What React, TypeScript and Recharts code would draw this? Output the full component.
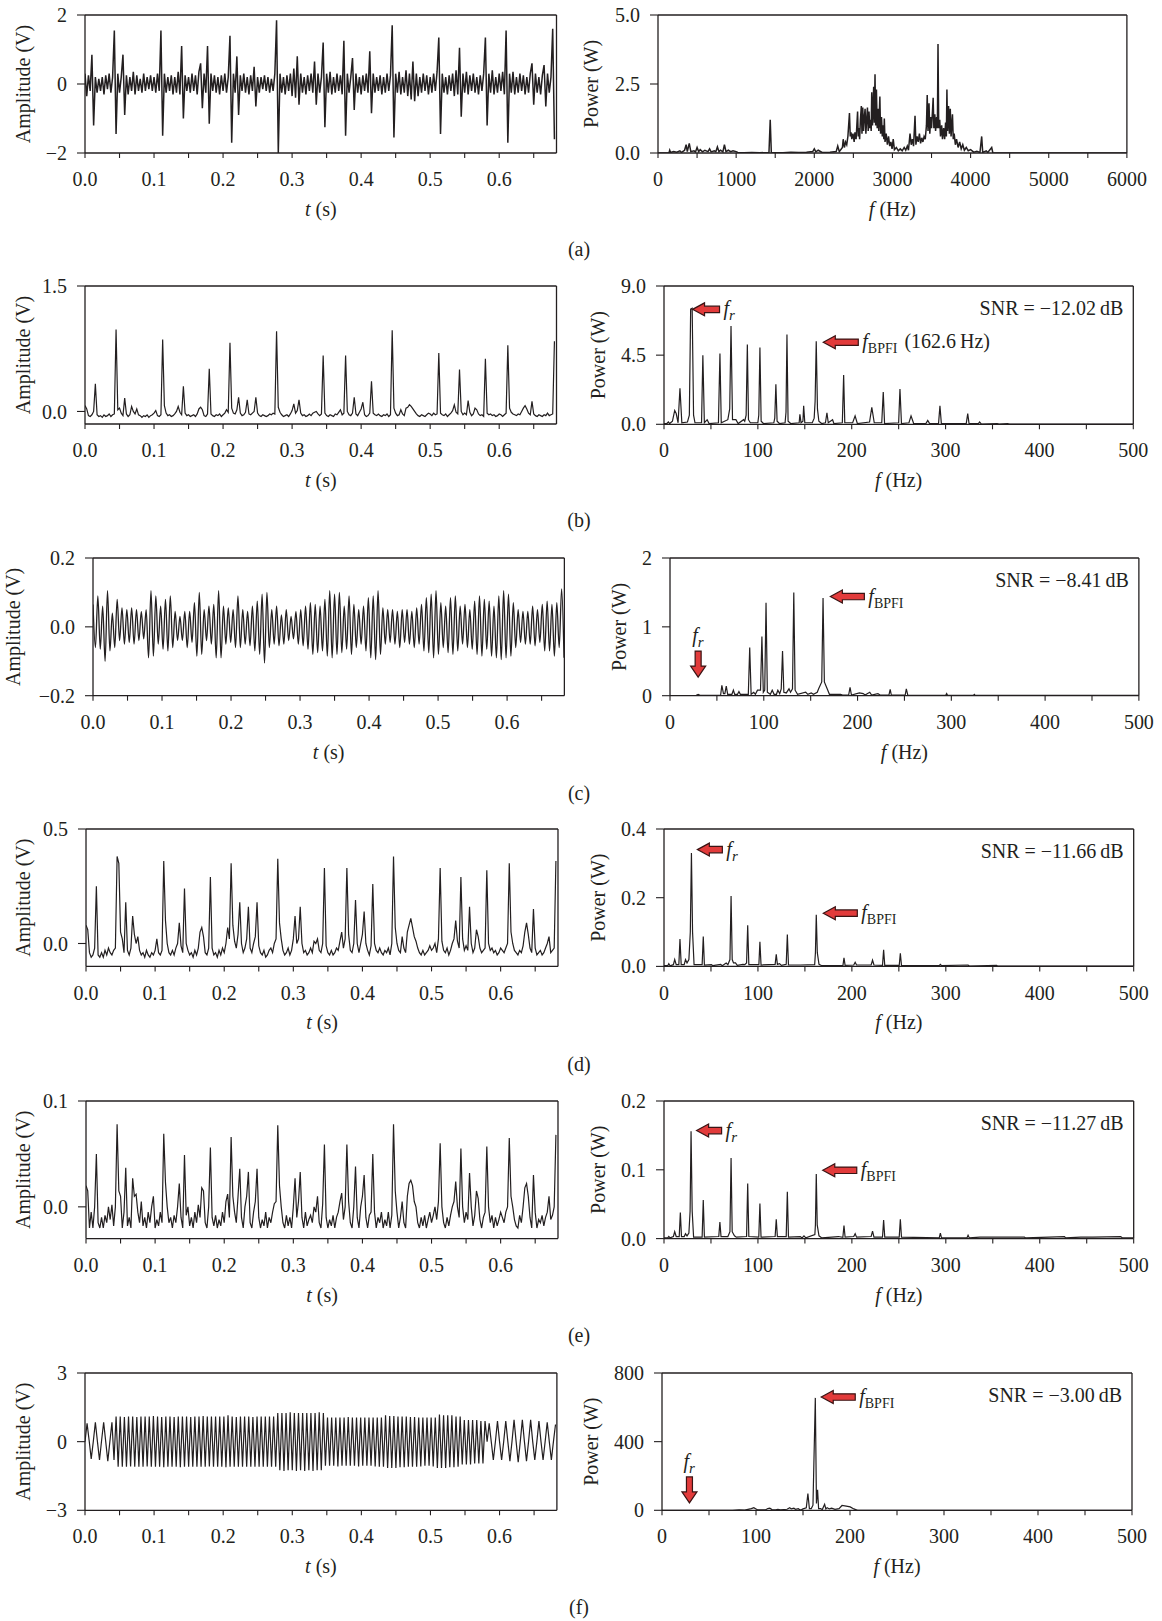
import type { ReactNode } from 'react'
import { LineChart, Line, XAxis, YAxis, ReferenceDot } from 'recharts'

const FONT = '"Liberation Serif", "Times New Roman", serif'
const INK = '#231f20'
const RED = '#e23b3b'
const RED_EDGE = '#3a1414'

// sampling steps of the time records (s)
const DT_ENV = 0.0025
const DT_OSC = 0.003
const DT_OSC_C = 0.0035

const T_DOMAIN = [0, 0.683]
const T_TICKS = [0, 0.05, 0.1, 0.15, 0.2, 0.25, 0.3, 0.35, 0.4, 0.45, 0.5, 0.55, 0.6, 0.65]
const T_LABELS = ['0.0', '', '0.1', '', '0.2', '', '0.3', '', '0.4', '', '0.5', '', '0.6', '']

const F_DOMAIN = [0, 500]
const F_TICKS = [0, 50, 100, 150, 200, 250, 300, 350, 400, 450, 500]
const F_LABELS = ['0', '', '100', '', '200', '', '300', '', '400', '', '500']

const FW_DOMAIN = [0, 6000]
const FW_TICKS = [0, 500, 1000, 1500, 2000, 2500, 3000, 3500, 4000, 4500, 5000, 5500, 6000]
const FW_LABELS = ['0', '', '1000', '', '2000', '', '3000', '', '4000', '', '5000', '', '6000']

// (a) raw vibration signal, V
const RAW_A = [
  0.3, -0.35, 0.25, -0.2, 0.85, -1.2, 0.2, -0.25, 0.15, -0.2,
  0.2, -0.3, 0.25, -0.15, 0.3, -0.25, 0.2, 1.55, -1.45, 0.3,
  -0.25, 0.2, 0.85, -0.9, 0.25, -0.3, 0.2, -0.2, 0.35, -0.3,
  0.25, -0.2, 0.15, -0.25, 0.3, -0.2, 0.2, -0.15, 0.25, -0.2,
  0.2, -0.25, 0.3, -0.2, 1.55, -1.5, 0.3, -0.25, 0.2, -0.2,
  0.25, -0.3, 0.2, -0.25, 0.35, -0.3, 1.1, -1.0, 0.25, -0.2,
  0.2, -0.25, 0.3, -0.2, 0.25, -0.3, 0.35, 0.6, -0.7, 0.3,
  -0.25, 1.1, -1.15, 0.3, -0.2, 0.25, -0.25, 0.2, -0.3, 0.25,
  -0.2, 0.3, -0.25, 0.2, 1.4, -1.7, 0.3, -0.25, 0.8, -0.9,
  0.25, -0.2, 0.3, -0.25, 0.2, -0.3, 0.25, -0.2, 0.5, -0.65,
  0.2, -0.25, 0.2, -0.15, 0.25, -0.2, 0.2, -0.25, 0.15, -0.2,
  0.3, 1.85, -2.0, 0.3, -0.25, 0.2, -0.3, 0.25, -0.2, 0.3,
  -0.35, 0.45, -0.4, 0.8, -0.6, 0.3, -0.25, 0.2, -0.3, 0.25,
  -0.2, 0.3, -0.25, 0.65, -0.6, 0.3, -0.25, 0.2, 1.2, -1.25,
  0.3, -0.25, 0.35, -0.3, 0.2, -0.25, 0.3, -0.2, 0.25, -0.3,
  1.25, -1.5, 0.3, -0.25, 0.2, 0.75, -0.75, 0.3, -0.25, 0.2,
  -0.3, 0.25, -0.2, 0.3, -0.25, 0.95, -0.85, 0.3, -0.25, 0.2,
  -0.2, 0.25, -0.3, 0.2, -0.25, 0.3, -0.2, 0.25, 1.7, -1.55,
  0.3, -0.25, 0.35, -0.3, 0.2, -0.25, 0.4, -0.35, 0.3, -0.45,
  0.65, -0.5, 0.3, -0.35, 0.2, -0.25, 0.3, -0.2, 0.25, -0.3,
  0.2, -0.25, 0.3, -0.2, 0.35, 1.35, -1.45, 0.3, -0.25, 0.2,
  -0.3, 0.25, -0.2, 0.3, -0.35, 0.4, -0.3, 1.05, -0.95, 0.3,
  -0.25, 0.35, -0.3, 0.25, -0.2, 0.3, -0.25, 0.2, -0.3, 0.25,
  -0.2, 0.3, 1.35, -1.2, 0.3, -0.25, 0.4, -0.3, 0.2, -0.25,
  0.3, -0.2, 0.35, -0.3, 1.55, -1.7, 0.3, -0.25, 0.35, -0.3,
  0.2, -0.25, 0.3, -0.2, 0.25, -0.3, 0.2, -0.25, 0.3, 0.6,
  -0.6, 0.3, -0.25, 0.2, -0.3, 0.25, 0.55, -0.65, 0.3, -0.25,
  0.2, 1.6, -1.6,
]

// (a) power spectrum [Hz, W]
const SPEC_A = [
  [0, 0], [140, 0], [150, 0.1], [160, 0.02], [200, 0.05], [240, 0.03], [280, 0.08], [300, 0.02],
  [340, 0.1], [360, 0.3], [375, 0.05], [400, 0.35], [420, 0.05], [460, 0.08], [480, 0.04], [500, 0.2],
  [520, 0.05], [540, 0.12], [570, 0.04], [600, 0.1], [640, 0.05], [660, 0.15], [680, 0.04], [720, 0.08],
  [740, 0.05], [760, 0.22], [780, 0.05], [800, 0.1], [830, 0.04], [850, 0.3], [870, 0.05], [900, 0.1],
  [930, 0.05], [960, 0.08], [1000, 0.05], [1020, 0.02], [1100, 0.01], [1200, 0.02], [1300, 0.01],
  [1420, 0.02], [1436, 1.2], [1450, 0.02], [1600, 0.01], [1700, 0.03], [1800, 0.02], [1900, 0.03],
  [1980, 0.05], [2000, 0.15], [2020, 0.04], [2050, 0.1], [2100, 0.02], [2200, 0.03], [2280, 0.05],
  [2300, 0.25], [2320, 0.05], [2360, 0.2], [2370, 0.5], [2385, 0.2], [2400, 0.4], [2415, 0.3],
  [2430, 0.6], [2450, 1.45], [2460, 0.6], [2470, 0.75], [2480, 0.5], [2495, 0.7], [2510, 0.4],
  [2520, 0.75], [2535, 0.5], [2554, 1.5], [2562, 0.6], [2570, 0.9], [2580, 0.5], [2590, 1.2],
  [2602, 1.7], [2610, 0.7], [2620, 1.65], [2630, 0.8], [2640, 1.3], [2650, 1.6], [2660, 0.7],
  [2670, 1.2], [2680, 1.65], [2690, 0.8], [2700, 1.5], [2710, 0.9], [2720, 1.2], [2728, 0.8],
  [2735, 2.2], [2745, 1.0], [2760, 2.4], [2768, 1.1], [2777, 2.85], [2785, 1.0], [2795, 2.3],
  [2805, 0.9], [2815, 1.6], [2825, 0.8], [2839, 2.05], [2848, 0.7], [2860, 1.3], [2870, 0.6],
  [2880, 1.0], [2890, 0.5], [2896, 1.25], [2905, 0.4], [2920, 0.7], [2935, 0.3], [2950, 0.6],
  [2965, 0.25], [2980, 0.4], [2995, 0.15], [3010, 0.5], [3025, 0.12], [3050, 0.2], [3075, 0.08],
  [3100, 0.15], [3125, 0.08], [3150, 0.2], [3170, 0.1], [3190, 0.25], [3205, 0.1], [3225, 0.7],
  [3240, 0.3], [3255, 0.5], [3270, 0.25], [3289, 1.35], [3300, 0.3], [3315, 0.6], [3330, 0.4],
  [3345, 0.7], [3360, 0.35], [3375, 0.55], [3390, 0.4], [3405, 0.6], [3420, 0.5], [3435, 1.0],
  [3445, 2.1], [3455, 0.8], [3468, 1.8], [3478, 0.7], [3490, 1.3], [3500, 0.9], [3512, 1.5],
  [3521, 2.0], [3530, 0.9], [3542, 1.4], [3552, 0.8], [3565, 1.3], [3575, 0.9], [3583, 3.95],
  [3592, 0.9], [3605, 1.2], [3615, 0.6], [3630, 1.0], [3640, 0.5], [3655, 0.9], [3668, 0.5],
  [3680, 1.1], [3690, 0.6], [3697, 2.3], [3705, 0.8], [3718, 1.7], [3728, 0.7], [3740, 1.6],
  [3750, 0.6], [3768, 1.4], [3778, 0.5], [3790, 0.7], [3805, 0.3], [3820, 0.5], [3840, 0.2],
  [3860, 0.4], [3880, 0.15], [3900, 0.3], [3920, 0.1], [3945, 0.2], [3970, 0.08], [4000, 0.12],
  [4040, 0.03], [4080, 0.06], [4120, 0.02], [4142, 0.6], [4155, 0.02], [4200, 0.08], [4220, 0.02],
  [4270, 0.2], [4285, 0], [6000, 0],
]

// (b) envelope signal, V
const ENV_B = [
  0.07, 0.03, -0.05, -0.06, -0.04, 0.0, 0.33, -0.04, -0.06, -0.05,
  -0.07, -0.04, -0.06, -0.05, -0.03, -0.06, -0.04, -0.03, 0.98, 0.02,
  0.04, -0.02, -0.05, 0.16, -0.03, -0.06, -0.04, 0.06, 0.0, -0.03,
  0.03, -0.04, -0.05, -0.07, -0.05, -0.06, -0.04, -0.07, -0.05, -0.04,
  -0.02, 0.01, -0.05, -0.06, -0.04, 0.86, 0.07, -0.02, -0.05, -0.04,
  -0.06, -0.05, -0.03, 0.0, 0.06, -0.01, -0.04, 0.3, -0.02, -0.05,
  -0.04, -0.06, -0.05, -0.04, -0.06, -0.03, 0.03, 0.05, 0.02, -0.05,
  -0.06, -0.03, 0.51, -0.03, -0.05, -0.06, -0.04, -0.05, -0.03, -0.06,
  -0.04, -0.02, 0.02, -0.01, 0.82, 0.04, -0.02, -0.03, 0.02, 0.17,
  -0.02, -0.05, -0.04, -0.01, 0.14, -0.03, -0.04, -0.02, 0.0, 0.17,
  -0.02, -0.05, -0.06, -0.04, -0.05, -0.06, -0.05, -0.03, -0.04, -0.02,
  -0.03, 0.96, 0.05, -0.01, -0.04, -0.06, -0.05, -0.04, -0.06, -0.03,
  0.01, 0.09, -0.02, 0.01, 0.14, -0.02, -0.05, -0.04, -0.06, -0.05,
  -0.03, -0.05, -0.02, -0.01, 0.0, -0.03, -0.05, -0.03, 0.67, -0.02,
  -0.05, -0.06, -0.04, -0.05, -0.06, -0.03, -0.04, -0.01, 0.02, -0.04,
  -0.02, 0.67, 0.0, -0.04, -0.05, -0.02, 0.17, -0.03, -0.05, -0.01,
  0.03, 0.11, -0.04, -0.06, -0.05, -0.02, 0.36, -0.02, -0.04, -0.05,
  -0.03, -0.05, -0.06, -0.04, -0.05, -0.03, -0.06, -0.04, 0.97, 0.04,
  -0.02, -0.05, -0.04, 0.02, -0.03, -0.05, 0.04, 0.05, 0.08, 0.06,
  0.03, 0.0, -0.03, -0.05, -0.06, -0.04, -0.05, -0.06, -0.04, -0.02,
  -0.03, -0.05, -0.02, -0.04, -0.03, 0.7, -0.02, -0.04, -0.05, -0.03,
  -0.06, -0.04, -0.02, 0.01, 0.08, -0.01, -0.03, 0.5, 0.0, -0.04,
  -0.02, -0.04, 0.13, -0.01, -0.05, -0.03, 0.04, 0.02, -0.03, -0.05,
  -0.04, -0.06, 0.63, -0.02, -0.04, -0.03, -0.05, -0.04, -0.06, -0.05,
  -0.03, -0.04, -0.06, -0.04, -0.02, 0.79, 0.04, -0.01, -0.03, -0.04,
  -0.05, -0.03, -0.04, 0.0, 0.04, 0.07, 0.03, -0.02, -0.04, 0.12,
  -0.03, -0.05, -0.06, -0.04, -0.05, -0.06, -0.04, -0.05, -0.02, -0.05,
  -0.04, -0.03, 0.84,
]

const SPEC_B = [
  [0, 0.05], [3, 0.05], [4.7, 0.15], [6, 0.05], [9, 0.2], [11.4, 0.9], [13, 0.7], [15, 0.1],
  [17, 2.35], [19, 0.1], [25, 0.15], [27, 0.6], [28.4, 7.5], [30, 7.55], [31.5, 0.6], [33, 0.1],
  [40, 0.1], [41.4, 4.5], [43, 0.1], [46, 0.3], [48, 0.05], [58, 0.1], [59.6, 4.6], [61, 0.1],
  [68, 0.3], [70, 1.0], [71.4, 6.4], [73, 0.3], [76.6, 0.3], [79, 0.05], [84.8, 0.3], [86, 0.2],
  [87.5, 0.6], [88.8, 5.2], [90, 0.3], [92, 0.1], [100, 0.1], [101, 0.6], [102.2, 5.0], [103.5, 0.2],
  [106, 0.05], [117, 0.1], [118, 0.4], [119.2, 2.6], [120.5, 0.2], [123, 0.05], [129, 0.1], [130, 0.8],
  [131, 5.85], [132.2, 0.2], [135, 0.05], [144, 0.1], [144.8, 0.65], [146, 0.1], [148, 0.2],
  [148.8, 1.2], [150, 0.1], [158, 0.1], [160, 0.4], [161, 1.5], [162.2, 5.4], [163.5, 1.0],
  [165, 0.2], [168, 0.05], [172, 0.1], [173.6, 0.75], [175, 0.1], [179.6, 0.3], [181, 0.05],
  [190, 0.1], [191.4, 3.2], [192.6, 0.1], [201, 0.1], [203.6, 0.55], [206, 0.05], [219, 0.15],
  [221.4, 1.1], [224, 0.1], [232, 0.1], [233.6, 2.1], [235, 0.05], [250, 0.1], [251.4, 2.3],
  [253, 0.05], [261, 0.1], [263.2, 0.55], [266, 0.05], [279, 0.05], [281, 0.25], [283, 0.05],
  [292.5, 0.05], [294, 1.2], [295.5, 0.05], [322, 0.05], [323.6, 0.7], [325, 0.05], [335, 0.05],
  [336.2, 0.15], [338, 0.02], [355, 0.05], [357, 0.02], [366, 0.05], [368, 0.02], [500, 0.02],
]

// (c) filtered oscillation, V (extremes, 3.5 ms apart)
const OSC_C = [
  0.065, -0.06, 0.09, -0.065, 0.06, -0.1, 0.105, -0.07, 0.04, -0.06,
  0.08, -0.04, 0.055, -0.05, 0.05, -0.045, 0.055, -0.05, 0.05, -0.04,
  0.045, -0.035, 0.05, -0.09, 0.105, -0.085, 0.09, -0.05, 0.06, -0.065,
  0.08, -0.07, 0.09, -0.06, 0.045, -0.04, 0.03, -0.04, 0.045, -0.06,
  0.045, -0.045, 0.07, -0.085, 0.1, -0.08, 0.05, -0.04, 0.06, -0.05,
  0.065, -0.09, 0.105, -0.09, 0.06, -0.05, 0.055, -0.045, 0.05, -0.06,
  0.09, -0.06, 0.05, -0.05, 0.045, -0.055, 0.06, -0.07, 0.075, -0.08,
  0.095, -0.105, 0.1, -0.06, 0.05, -0.05, 0.06, -0.055, 0.035, -0.05,
  0.05, -0.04, 0.03, -0.035, 0.045, -0.05, 0.05, -0.055, 0.06, -0.065,
  0.07, -0.08, 0.065, -0.075, 0.06, -0.07, 0.08, -0.085, 0.105, -0.09,
  0.095, -0.08, 0.1, -0.075, 0.06, -0.065, 0.09, -0.08, 0.065, -0.06,
  0.05, -0.05, 0.06, -0.07, 0.085, -0.09, 0.09, -0.095, 0.105, -0.08,
  0.055, -0.05, 0.05, -0.045, 0.05, -0.05, 0.045, -0.06, 0.05, -0.045,
  0.05, -0.05, 0.045, -0.06, 0.055, -0.05, 0.065, -0.07, 0.085, -0.075,
  0.095, -0.09, 0.105, -0.08, 0.07, -0.06, 0.06, -0.075, 0.085, -0.08,
  0.09, -0.07, 0.06, -0.05, 0.065, -0.06, 0.05, -0.065, 0.075, -0.08,
  0.09, -0.085, 0.08, -0.065, 0.075, -0.085, 0.06, -0.09, 0.09, -0.095,
  0.105, -0.09, 0.095, -0.085, 0.07, -0.06, 0.05, -0.045, 0.045, -0.05,
  0.045, -0.05, 0.06, -0.055, 0.05, -0.045, 0.065, -0.07, 0.075, -0.07,
  0.065, -0.085, 0.07, -0.06, 0.11, -0.09,
]

const SPEC_C = [
  [0, 0.0], [28, 0.005], [30, 0.02], [32, 0.005], [54, 0.01], [55.3, 0.15], [57, 0.03], [58.5, 0.03],
  [60, 0.14], [61.5, 0.02], [66, 0.02], [67.6, 0.08], [69, 0.02], [72, 0.02], [73.5, 0.06], [75, 0.02],
  [83.5, 0.02], [85, 0.7], [86.5, 0.02], [89.3, 0.05], [91, 0.02], [93.3, 0.08], [96.5, 0.08],
  [98, 0.86], [99.5, 0.05], [101, 0.08], [102.4, 1.35], [103.8, 0.05], [107, 0.02], [109, 0.08],
  [111, 0.02], [113.5, 0.02], [115, 0.08], [117, 0.03], [118.6, 0.1], [120, 0.65], [121.4, 0.05],
  [124, 0.04], [126.9, 0.1], [128.5, 0.05], [130.6, 0.1], [132, 1.5], [133.4, 0.08], [136, 0.02],
  [144.7, 0.05], [147, 0.02], [150.6, 0.04], [153, 0.02], [157, 0.05], [158.5, 0.1], [161.8, 0.2],
  [163.2, 1.42], [164.6, 0.2], [167.6, 0.1], [170, 0.02], [182, 0.02], [184, 0.01], [190.5, 0.01],
  [192, 0.12], [193.5, 0.01], [202, 0.04], [206, 0.03], [208, 0.01], [213, 0.05], [215, 0.01],
  [221.7, 0.03], [224, 0.01], [233.5, 0.01], [234.8, 0.09], [236, 0.01], [250.8, 0.01], [252, 0.1],
  [253.5, 0.01], [294, 0.005], [295, 0.03], [296, 0.005], [323.5, 0.005], [324.5, 0.02],
  [325.5, 0.005], [500, 0.005],
]

// (d) envelope signal, V
const ENV_D = [
  0.08, 0.06, -0.04, -0.06, -0.05, -0.02, 0.25, -0.05, -0.06, -0.04,
  -0.06, -0.03, -0.05, -0.02, -0.04, -0.05, -0.03, -0.02, 0.38, 0.35,
  0.05, 0.02, -0.04, 0.18, -0.03, -0.05, -0.02, 0.12, 0.04, 0.0,
  0.03, -0.03, -0.05, -0.04, -0.06, -0.03, -0.05, -0.06, -0.04, -0.05,
  -0.03, 0.02, -0.04, -0.05, -0.03, 0.36, 0.1, 0.0, -0.04, -0.05,
  -0.03, -0.05, -0.02, 0.0, 0.09, -0.01, -0.04, 0.24, 0.0, -0.03,
  -0.05, -0.04, -0.06, -0.03, -0.05, -0.02, 0.05, 0.07, 0.03, -0.04,
  -0.05, -0.02, 0.29, -0.02, -0.05, -0.04, -0.06, -0.03, -0.05, -0.02,
  -0.04, 0.0, 0.07, 0.02, 0.35, 0.08, 0.01, -0.02, 0.04, 0.18,
  0.0, -0.04, -0.02, 0.02, 0.16, -0.02, -0.04, 0.0, 0.03, 0.18,
  -0.01, -0.04, -0.05, -0.03, -0.06, -0.05, -0.03, -0.02, -0.04, 0.0,
  0.02, 0.37, 0.09, 0.02, -0.03, -0.05, -0.04, -0.02, -0.05, -0.03,
  0.02, 0.12, 0.0, 0.02, 0.16, 0.0, -0.04, -0.03, -0.05, -0.04,
  -0.02, -0.04, 0.01, 0.0, 0.02, -0.03, -0.04, 0.0, 0.33, -0.01,
  -0.04, -0.05, -0.03, -0.05, -0.04, -0.02, -0.03, 0.01, 0.05, -0.02,
  0.02, 0.33, 0.04, -0.03, -0.04, 0.0, 0.19, 0.0, -0.04, 0.0,
  0.04, 0.14, 0.0, -0.03, -0.05, -0.01, 0.26, 0.0, -0.03, -0.04,
  -0.02, -0.04, -0.05, -0.03, -0.04, -0.02, -0.05, 0.0, 0.38, 0.07,
  0.0, -0.03, -0.04, 0.03, -0.02, -0.04, 0.05, 0.08, 0.11, 0.07,
  0.03, 0.01, -0.02, -0.04, -0.05, -0.03, -0.05, -0.04, -0.03, -0.01,
  -0.03, -0.02, 0.0, -0.04, 0.02, 0.33, 0.01, -0.03, -0.04, -0.02,
  -0.05, -0.03, 0.0, 0.02, 0.1, 0.01, -0.02, 0.29, 0.02, -0.03,
  -0.01, -0.03, 0.16, 0.0, -0.04, -0.02, 0.06, 0.03, -0.02, -0.04,
  -0.03, -0.02, 0.32, 0.0, -0.03, -0.02, -0.04, -0.03, -0.05, -0.04,
  -0.02, -0.03, -0.04, -0.02, 0.0, 0.35, 0.05, 0.0, -0.03, -0.04,
  -0.05, -0.03, -0.04, -0.01, 0.05, 0.09, 0.04, -0.02, -0.04, 0.15,
  -0.02, -0.05, -0.04, -0.03, -0.05, -0.04, -0.02, 0.0, 0.03, -0.04,
  -0.03, -0.02, 0.36,
]

const SPEC_D = [
  [0, 0.002], [4, 0.002], [5.1, 0.008], [6.5, 0.002], [10, 0.005], [11.4, 0.02], [13, 0.005],
  [15.8, 0.005], [17, 0.08], [18.3, 0.005], [21.5, 0.005], [22.9, 0.02], [24.5, 0.01], [26.5, 0.02],
  [28, 0.1], [29.2, 0.33], [30.4, 0.1], [32, 0.005], [40.6, 0.005], [41.8, 0.087], [43, 0.004],
  [50.5, 0.005], [52, 0.002], [60.3, 0.006], [62, 0.002], [66.2, 0.01], [68, 0.005], [70.2, 0.02],
  [71.4, 0.205], [72.6, 0.02], [74, 0.01], [76.1, 0.01], [78, 0.003], [84, 0.006], [86, 0.005],
  [87.9, 0.01], [89.1, 0.12], [90.3, 0.005], [101, 0.005], [102.1, 0.072], [103.3, 0.004],
  [118.3, 0.006], [119.5, 0.035], [120.7, 0.006], [123, 0.008], [125, 0.003], [130.1, 0.006],
  [131.3, 0.093], [132.5, 0.004], [145.1, 0.004], [160.4, 0.005], [161.2, 0.04], [162.1, 0.15],
  [163.2, 0.04], [165, 0.006], [168, 0.002], [190.5, 0.003], [191.6, 0.025], [192.8, 0.003],
  [202, 0.004], [203.5, 0.012], [205, 0.004], [220.5, 0.004], [222, 0.018], [223.5, 0.004],
  [232.6, 0.003], [233.8, 0.048], [235, 0.003], [250.4, 0.003], [251.6, 0.038], [252.8, 0.003],
  [293, 0.002], [294.2, 0.006], [295.4, 0.002], [323.7, 0.004], [325, 0.001], [354, 0.003],
  [355, 0.001], [500, 0.001],
]

// (e) envelope signal, V
const ENV_E = [
  0.02, 0.015, -0.02, -0.005, -0.02, 0.0, 0.05, -0.015, -0.02, -0.01,
  -0.02, -0.008, -0.015, 0.0, -0.012, 0.002, -0.018, 0.0, 0.078, 0.015,
  0.01, -0.02, -0.005, 0.037, -0.018, -0.01, -0.02, 0.027, 0.01, 0.012,
  -0.005, -0.015, 0.005, -0.018, -0.01, -0.02, -0.005, -0.015, 0.0, 0.01,
  -0.02, -0.012, -0.018, -0.005, -0.015, 0.069, 0.023, 0.0, -0.015, -0.01,
  -0.02, -0.008, -0.015, 0.0, 0.022, -0.01, -0.02, 0.049, -0.008, 0.0,
  -0.018, -0.01, -0.02, -0.005, -0.015, 0.002, -0.01, 0.018, 0.015, -0.015,
  -0.02, 0.0, 0.056, -0.01, -0.018, -0.008, -0.02, -0.012, -0.018, -0.005,
  -0.015, 0.005, 0.012, -0.01, 0.066, 0.01, -0.005, -0.015, 0.01, 0.036,
  -0.01, -0.02, 0.0, 0.01, 0.033, -0.015, -0.02, -0.005, 0.005, 0.036,
  -0.01, -0.02, -0.012, -0.018, -0.005, -0.02, -0.01, -0.015, -0.005, 0.003,
  0.005, 0.077, 0.02, 0.0, -0.015, -0.02, -0.008, -0.018, -0.01, -0.02,
  0.0, 0.027, -0.01, 0.005, 0.033, -0.01, -0.02, -0.005, -0.018, -0.012,
  -0.008, -0.015, 0.0, -0.005, 0.01, -0.015, -0.02, 0.003, 0.059, -0.01,
  -0.02, -0.012, -0.018, -0.008, -0.02, -0.01, -0.005, 0.005, 0.013, -0.012,
  0.0, 0.059, 0.005, -0.015, -0.02, 0.0, 0.038, -0.01, -0.02, 0.0,
  0.01, 0.03, -0.01, -0.02, -0.008, -0.005, 0.05, -0.005, -0.02, -0.01,
  -0.015, -0.005, -0.02, -0.012, -0.018, -0.005, -0.02, -0.008, 0.078, 0.015,
  -0.005, -0.02, -0.01, 0.005, -0.015, -0.02, 0.01, 0.022, 0.025, 0.02,
  0.005, 0.0, -0.015, -0.02, -0.01, -0.018, -0.008, -0.02, -0.012, -0.005,
  -0.015, -0.008, 0.0, -0.012, 0.005, 0.06, 0.0, -0.015, -0.02, -0.01,
  -0.018, -0.008, 0.0, 0.005, 0.024, 0.0, -0.01, 0.055, 0.0, -0.015,
  -0.005, -0.012, 0.032, 0.0, -0.018, -0.008, 0.015, 0.008, -0.012, -0.02,
  -0.01, -0.005, 0.057, 0.0, -0.015, -0.008, -0.02, -0.01, -0.018, -0.012,
  -0.005, -0.01, -0.015, -0.005, 0.0, 0.065, 0.01, 0.0, -0.012, -0.018,
  -0.02, -0.008, -0.015, 0.0, 0.018, 0.022, 0.01, -0.01, -0.02, 0.03,
  -0.005, -0.02, -0.012, -0.015, -0.008, -0.018, -0.01, -0.005, 0.01, -0.012,
  -0.008, 0.0, 0.068,
]

const SPEC_E = [
  [0, 0.001], [4, 0.001], [5.1, 0.003], [6.5, 0.001], [10, 0.003], [11.4, 0.01], [13, 0.003],
  [16.2, 0.003], [17.4, 0.038], [18.6, 0.003], [21.5, 0.003], [22.9, 0.007], [24.5, 0.004],
  [26.5, 0.008], [27.8, 0.04], [28.8, 0.156], [30, 0.04], [31.5, 0.002], [40.6, 0.002], [41.8, 0.056],
  [43, 0.002], [58.3, 0.003], [59.5, 0.024], [60.7, 0.003], [68, 0.003], [70.2, 0.01], [71.4, 0.117],
  [72.6, 0.01], [75, 0.004], [77, 0.002], [87.9, 0.003], [89.1, 0.08], [90.3, 0.003], [100.9, 0.002],
  [102.1, 0.051], [103.3, 0.002], [118.3, 0.003], [119.5, 0.028], [120.7, 0.003], [130.1, 0.003],
  [131.3, 0.068], [132.5, 0.002], [145.1, 0.003], [147, 0.001], [149, 0.004], [151, 0.001],
  [160.6, 0.006], [161.2, 0.02], [162.1, 0.094], [163.1, 0.02], [165, 0.004], [168, 0.001],
  [185.7, 0.003], [190.4, 0.002], [191.6, 0.019], [192.8, 0.002], [202, 0.003], [203.5, 0.007],
  [205, 0.002], [220.5, 0.003], [222, 0.011], [223.5, 0.002], [232.6, 0.002], [233.8, 0.027],
  [235, 0.002], [250.4, 0.002], [251.6, 0.028], [252.8, 0.002], [293, 0.001], [294.2, 0.008],
  [295.4, 0.001], [322.5, 0.001], [323.7, 0.005], [325, 0.001], [336.3, 0.002], [354, 0.002],
  [383.7, 0.002], [385, 0.001], [426.3, 0.003], [427.5, 0.001], [443.6, 0.002], [456.6, 0.002],
  [486.2, 0.003], [488, 0.001], [500, 0.001],
]

// (f) extracted component, V
const OSC_F = [
  0, 0.8, 0.05, -0.75, 0.0, 0.85, 0.0, -0.8, 0.05, 0.85,
  0.0, -0.85, 0.0, 0.85, -0.8, 1.1, -1.1, 1.1, -1.1, 1.08,
  -1.1, 1.1, -1.08, 1.1, -1.1, 1.08, -1.1, 1.1, -1.1, 1.1,
  -1.08, 1.1, -1.1, 1.12, -1.1, 1.1, -1.1, 1.08, -1.12, 1.1,
  -1.1, 1.1, -1.1, 1.08, -1.1, 1.1, -1.12, 1.1, -1.1, 1.1,
  -1.1, 1.08, -1.1, 1.1, -1.1, 1.1, -1.1, 1.12, -1.1, 1.1,
  -1.08, 1.1, -1.1, 1.1, -1.1, 1.1, -1.1, 1.1, -1.12, 1.15,
  -1.1, 1.1, -1.1, 1.08, -1.1, 1.1, -1.1, 1.1, -1.1, 1.1,
  -1.1, 1.08, -1.1, 1.1, -1.1, 1.1, -1.1, 1.1, -1.1, 1.1,
  -1.1, 1.1, -1.1, 1.25, -1.25, 1.25, -1.28, 1.25, -1.25, 1.28,
  -1.25, 1.25, -1.28, 1.25, -1.25, 1.25, -1.28, 1.25, -1.25, 1.25,
  -1.28, 1.25, -1.25, 1.28, -1.25, 1.25, -1.05, 1.05, -1.05, 1.05,
  -1.05, 1.05, -1.08, 1.05, -1.05, 1.05, -1.05, 1.08, -1.05, 1.05,
  -1.05, 1.05, -1.08, 1.05, -1.05, 1.05, -1.05, 1.05, -1.05, 1.05,
  -1.08, 1.05, -1.1, 1.05, -1.1, 1.15, -1.15, 1.12, -1.15, 1.12,
  -1.15, 1.1, -1.12, 1.1, -1.12, 1.1, -1.1, 1.08, -1.1, 1.08,
  -1.1, 1.05, -1.08, 1.05, -1.05, 1.05, -1.05, 1.05, -1.08, 1.05,
  -1.15, 1.18, -1.15, 1.15, -1.15, 1.15, -1.12, 1.15, -1.12, 1.1,
  -1.1, 1.1, -1.0, 0.95, -1.0, 0.95, -1.0, 0.95, -0.95, 0.95,
  -0.95, 0.9, -0.95, 0.9, 0.0, 0.8, 0.0, -0.8, 0.0, 0.9,
  0.0, -0.8, 0.0, 0.9, 0.0, -0.85, 0.0, 0.95, 0.0, -0.9,
  0.0, 0.95, 0.0, -0.85, 0.0, 0.95, 0.0, -0.8, 0.0, 0.9,
  0.0, -0.8, 0.0, 0.85, 0.0, -0.8, 0.0, 0.75,
]

const SPEC_F = [
  [0, 0], [75, 0], [82, 2], [88, 1], [95, 10], [97.7, 15], [100, 8], [102, 2], [105.6, 3], [110, 2],
  [112.5, 10], [114.7, 12], [117, 4], [121, 2], [123.3, 5], [126, 2], [133, 6], [135.9, 15],
  [137.5, 8], [140.3, 12], [142, 6], [145, 10], [146.5, 3], [148.2, 3], [150, 8], [153.5, 15],
  [155.2, 97], [156.8, 10], [158.8, 10], [160.6, 30], [163.1, 655], [164.3, 40], [165.5, 120],
  [166.6, 10], [168.6, 10], [170.5, 4], [173, 35], [174.3, 8], [175.7, 15], [178, 8], [180.5, 12],
  [184, 6], [188.3, 10], [191.5, 28], [196, 24], [200.2, 20], [204.1, 8], [208, 0], [500, 0],
]

const SNR_TEXT = ['SNR = \u221212.02\u2009dB', 'SNR = \u22128.41\u2009dB', 'SNR = \u221211.66\u2009dB', 'SNR = \u221211.27\u2009dB', 'SNR = \u22123.00\u2009dB']
const PANEL_TAGS = ['(a)', '(b)', '(c)', '(d)', '(e)', '(f)']

type Pt = { x: number; y: number }
const sampled = (vals: number[], dt: number): Pt[] => vals.map((y, i) => ({ x: +(i * dt).toFixed(4), y }))
const fromPairs = (pairs: number[][]): Pt[] => pairs.map(([x, y]) => ({ x, y }))

const WY = 90
const MT = 12
const MR = 34
const XH = 75

interface PanelProps {
  data: Pt[]
  left: number
  top: number
  w: number
  h: number
  kind: 't' | 'f' | 'fw'
  yDomain: number[]
  yTicks: number[]
  yLabels: string[]
  yMinor: number[]
  yTitle: string
  yGap: number
  curve?: 'linear' | 'monotone'
  lw?: number
  extras?: ReactNode[]
}

const tickStyle = { fontFamily: FONT, fontSize: 20, fill: INK }

function Panel(p: PanelProps) {
  const xDomain = p.kind === 't' ? T_DOMAIN : p.kind === 'f' ? F_DOMAIN : FW_DOMAIN
  const xTicks = p.kind === 't' ? T_TICKS : p.kind === 'f' ? F_TICKS : FW_TICKS
  const xLabels = p.kind === 't' ? T_LABELS : p.kind === 'f' ? F_LABELS : FW_LABELS
  const fmt = (ticks: number[], labels: string[]) => (v: number) => {
    const i = ticks.indexOf(v)
    return i < 0 ? '' : labels[i]
  }
  const xTitle = () => (
    <text x={WY + p.w / 2} y={MT + p.h + 63} textAnchor="middle" fontFamily={FONT} fontSize={20} fill={INK} style={{ whiteSpace: 'pre' }}>
      <tspan fontStyle="italic">{p.kind === 't' ? 't' : 'f'}</tspan>
      <tspan>{p.kind === 't' ? ' (s)' : ' (Hz)'}</tspan>
    </text>
  )
  const yx = WY - p.yGap
  const yy = MT + p.h / 2
  const yTitle = () => (
    <text x={yx} y={yy} transform={`rotate(-90 ${yx} ${yy})`} textAnchor="middle" dominantBaseline="central" fontFamily={FONT} fontSize={20} fill={INK}>
      {p.yTitle}
    </text>
  )
  const axisLine = { stroke: INK, strokeWidth: 1.3 }
  const tickLine = { stroke: INK, strokeWidth: 1.1 }
  return (
    <div style={{ position: 'absolute', left: p.left - WY, top: p.top - MT }}>
      <LineChart width={WY + p.w + MR} height={MT + p.h + XH} data={p.data} margin={{ top: MT, right: MR, bottom: 0, left: 0 }}>
        <XAxis dataKey="x" type="number" domain={xDomain} allowDataOverflow ticks={xTicks} interval={0}
          tickFormatter={fmt(xTicks, xLabels)} tick={tickStyle} tickSize={5} tickMargin={14} height={XH}
          axisLine={axisLine} tickLine={tickLine} label={xTitle} />
        <XAxis xAxisId="top" orientation="top" mirror type="number" domain={xDomain} allowDataOverflow
          ticks={xTicks} interval={0} tick={false} tickSize={5} axisLine={axisLine} tickLine={tickLine} />
        <YAxis type="number" domain={p.yDomain} allowDataOverflow ticks={p.yTicks} interval={0}
          tickFormatter={fmt(p.yTicks, p.yLabels)} tick={tickStyle} tickSize={8} tickMargin={10} width={WY}
          axisLine={axisLine} tickLine={tickLine} label={yTitle} />
        <YAxis yAxisId="minor" mirror type="number" domain={p.yDomain} allowDataOverflow ticks={p.yMinor}
          interval={0} tick={false} tickSize={5} axisLine={false} tickLine={tickLine} width={1} />
        <YAxis yAxisId="right" orientation="right" mirror type="number" domain={p.yDomain} allowDataOverflow
          ticks={[...p.yTicks, ...p.yMinor]} interval={0} tick={false} tickSize={5} axisLine={axisLine}
          tickLine={tickLine} width={1} />
        <Line dataKey="y" type={p.curve ?? 'linear'} stroke={INK} strokeWidth={p.lw ?? 1.2} dot={false} activeDot={false} isAnimationActive={false} />
        {p.extras}
      </LineChart>
    </div>
  )
}

const FR_LABEL = (
  <>
    <tspan fontStyle="italic">f</tspan>
    <tspan fontStyle="italic" fontSize={15} dy={5}>r</tspan>
  </>
)
const FBPFI_LABEL = (
  <>
    <tspan fontStyle="italic">f</tspan>
    <tspan fontSize={14} dy={5}>BPFI</tspan>
  </>
)
const FBPFI_HZ_LABEL = (
  <>
    <tspan fontStyle="italic">f</tspan>
    <tspan fontSize={14} dy={5}>BPFI</tspan>
    <tspan dy={-5} dx={7}>(162.6{'\u2009'}Hz)</tspan>
  </>
)

function leftArrow(key: string, x: number, y: number, len: number, label: ReactNode) {
  return (
    <ReferenceDot key={key} x={x} y={y} r={0} ifOverflow="visible" shape={(s: any) => {
      const { cx, cy } = s
      const hl = 12
      const pts = [[cx, cy], [cx + hl, cy - 6.5], [cx + hl, cy - 3.2], [cx + len, cy - 3.2], [cx + len, cy + 3.2], [cx + hl, cy + 3.2], [cx + hl, cy + 6.5]]
        .map(q => q.join(',')).join(' ')
      return (
        <g>
          <polygon points={pts} fill={RED} stroke={RED_EDGE} strokeWidth={1.2} />
          <text x={cx + len + 4} y={cy + 6} fontFamily={FONT} fontSize={20} fill={INK}>{label}</text>
        </g>
      )
    }} />
  )
}

function downArrow(key: string, x: number, y: number, len: number) {
  return (
    <ReferenceDot key={key} x={x} y={y} r={0} ifOverflow="visible" shape={(s: any) => {
      const { cx, cy } = s
      const hl = 11
      const pts = [[cx, cy], [cx - 7.5, cy - hl], [cx - 3, cy - hl], [cx - 3, cy - len], [cx + 3, cy - len], [cx + 3, cy - hl], [cx + 7.5, cy - hl]]
        .map(q => q.join(',')).join(' ')
      return (
        <g>
          <polygon points={pts} fill={RED} stroke={RED_EDGE} strokeWidth={1.2} />
          <text x={cx - 6} y={cy - len - 9} fontFamily={FONT} fontSize={20} fill={INK}>{FR_LABEL}</text>
        </g>
      )
    }} />
  )
}

function snrNote(key: string, x: number, y: number, text: string) {
  return (
    <ReferenceDot key={key} x={x} y={y} r={0} ifOverflow="visible" shape={(s: any) => (
      <text x={s.cx - 10} y={s.cy + 29} textAnchor="end" fontFamily={FONT} fontSize={20} fill={INK}>{text}</text>
    )} />
  )
}

const TAG_Y = [249, 520, 793, 1064, 1335, 1607]

export default function App() {
  const amp = 'Amplitude (V)'
  const pow = 'Power (W)'
  return (
    <div style={{ position: 'absolute', left: 0, top: 0, width: 1162, height: 1621, background: '#fff', fontFamily: FONT, color: INK, overflow: 'hidden' }}>
      {/* (a) */}
      <Panel data={sampled(RAW_A, DT_ENV)} left={85.3} top={15} w={471.5} h={138} kind="t" lw={1.5}
        yDomain={[-2, 2]} yTicks={[-2, 0, 2]} yLabels={['\u22122', '0', '2']} yMinor={[-1, 1]} yTitle={amp} yGap={62} />
      <Panel data={fromPairs(SPEC_A)} left={658.1} top={15} w={468.9} h={138} kind="fw" lw={1.5}
        yDomain={[0, 5]} yTicks={[0, 2.5, 5]} yLabels={['0.0', '2.5', '5.0']} yMinor={[1.25, 3.75]} yTitle={pow} yGap={67} />

      {/* (b) */}
      <Panel data={sampled(ENV_B, DT_ENV)} left={85.3} top={286} w={471.5} h={138} kind="t"
        yDomain={[-0.15, 1.5]} yTicks={[0, 1.5]} yLabels={['0.0', '1.5']} yMinor={[0.75]} yTitle={amp} yGap={62} />
      <Panel data={fromPairs(SPEC_B)} left={664.4} top={286} w={469.3} h={138.3} kind="f"
        yDomain={[0, 9]} yTicks={[0, 4.5, 9]} yLabels={['0.0', '4.5', '9.0']} yMinor={[2.25, 6.75]} yTitle={pow} yGap={66}
        extras={[
          leftArrow('fr', 30.4, 7.48, 27, FR_LABEL),
          leftArrow('bpfi', 169.7, 5.34, 35, FBPFI_HZ_LABEL),
          snrNote('snr', 500, 9, SNR_TEXT[0]),
        ]} />

      {/* (c) */}
      <Panel data={sampled(OSC_C, DT_OSC_C)} left={92.6} top={558} w={471.4} h={137.7} kind="t" curve="monotone" lw={1.3}
        yDomain={[-0.2, 0.2]} yTicks={[-0.2, 0, 0.2]} yLabels={['\u22120.2', '0.0', '0.2']} yMinor={[-0.1, 0.1]} yTitle={amp} yGap={80} />
      <Panel data={fromPairs(SPEC_C)} left={670.4} top={558} w={468.9} h={137.7} kind="f"
        yDomain={[0, 2]} yTicks={[0, 1, 2]} yLabels={['0', '1', '2']} yMinor={[0.5, 1.5]} yTitle={pow} yGap={51}
        extras={[
          downArrow('fr', 30, 0.27, 26),
          leftArrow('bpfi', 171, 1.44, 34, FBPFI_LABEL),
          snrNote('snr', 500, 2, SNR_TEXT[1]),
        ]} />

      {/* (d) */}
      <Panel data={sampled(ENV_D, DT_ENV)} left={85.9} top={829.3} w={472} h={137.4} kind="t"
        yDomain={[-0.1, 0.5]} yTicks={[0, 0.5]} yLabels={['0.0', '0.5']} yMinor={[0.25]} yTitle={amp} yGap={63} />
      <Panel data={fromPairs(SPEC_D)} left={664} top={829.3} w={469.7} h={137.4} kind="f"
        yDomain={[0, 0.4]} yTicks={[0, 0.2, 0.4]} yLabels={['0.0', '0.2', '0.4']} yMinor={[0.1, 0.3]} yTitle={pow} yGap={66}
        extras={[
          leftArrow('fr', 35.5, 0.34, 25, FR_LABEL),
          leftArrow('bpfi', 169.6, 0.155, 34, FBPFI_LABEL),
          snrNote('snr', 500, 0.4, SNR_TEXT[2]),
        ]} />

      {/* (e) */}
      <Panel data={sampled(ENV_E, DT_ENV)} left={85.9} top={1100.7} w={472} h={137.6} kind="t"
        yDomain={[-0.03, 0.1]} yTicks={[0, 0.1]} yLabels={['0.0', '0.1']} yMinor={[0.05]} yTitle={amp} yGap={63} />
      <Panel data={fromPairs(SPEC_E)} left={664} top={1100.7} w={469.7} h={137.6} kind="f"
        yDomain={[0, 0.2]} yTicks={[0, 0.1, 0.2]} yLabels={['0.0', '0.1', '0.2']} yMinor={[0.05, 0.15]} yTitle={pow} yGap={66}
        extras={[
          leftArrow('fr', 34.7, 0.157, 25, FR_LABEL),
          leftArrow('bpfi', 169, 0.0993, 34, FBPFI_LABEL),
          snrNote('snr', 500, 0.2, SNR_TEXT[3]),
        ]} />

      {/* (f) */}
      <Panel data={sampled(OSC_F, DT_OSC)} left={84.8} top={1372.7} w={471.9} h={137.3} kind="t"
        yDomain={[-3, 3]} yTicks={[-3, 0, 3]} yLabels={['\u22123', '0', '3']} yMinor={[-1.5, 1.5]} yTitle={amp} yGap={62} />
      <Panel data={fromPairs(SPEC_F)} left={662.2} top={1372.7} w={470} h={137.3} kind="f"
        yDomain={[0, 800]} yTicks={[0, 400, 800]} yLabels={['0', '400', '800']} yMinor={[200, 600]} yTitle={pow} yGap={71}
        extras={[
          downArrow('fr', 29.2, 43, 26),
          leftArrow('bpfi', 169.4, 660, 34, FBPFI_LABEL),
          snrNote('snr', 500, 800, SNR_TEXT[4]),
        ]} />

      {PANEL_TAGS.map((tag, i) => (
        <div key={tag} style={{ position: 'absolute', left: 549, width: 60, top: TAG_Y[i] - 11, textAlign: 'center', fontSize: 20, lineHeight: '22px' }}>
          {tag}
        </div>
      ))}
    </div>
  )
}
